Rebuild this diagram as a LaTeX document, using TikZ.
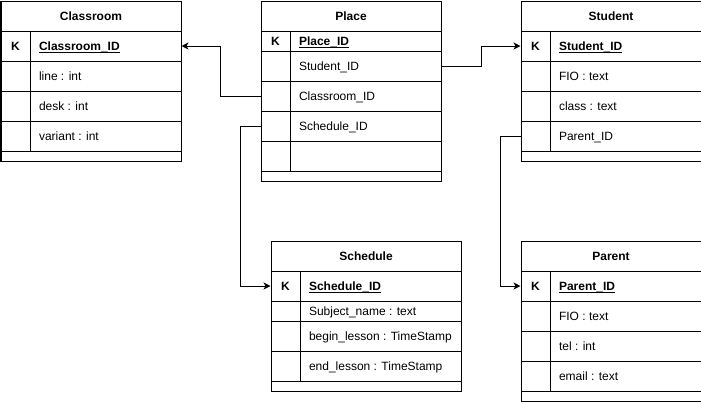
\documentclass[tikz,border=0pt]{standalone}
\usepackage{fontspec}
\setmainfont{Liberation Sans}
\usetikzlibrary{arrows.meta}
\newcommand\erfont{\fontsize{12bp}{14bp}\selectfont}
\newcommand\erul[1]{\setbox0\hbox{#1}\rlap{\vrule height -1.4bp depth 2.4bp width \wd0}\box0}
\begin{document}
\begin{tikzpicture}[x=1bp,y=-1bp,line width=1bp,
  every node/.style={inner sep=0pt, text height=9bp, text depth=0pt, font=\erfont},
  cell/.style 2 args={draw, anchor=north west, minimum width=#1 bp, minimum height=#2 bp},
  hd/.style={font=\erfont\bfseries},
  keylbl/.style={font=\erfont\bfseries},
  fk/.style={font=\erfont\bfseries, anchor=west},
  fl/.style={anchor=west},
  arr/.style={-{Stealth[length=7bp,width=7bp,inset=2bp]}, line width=1bp}
]
\useasboundingbox (0,0) rectangle (701,401);

% Classroom
\node[cell={180}{30}] (cls-h) at (0.5,0.5) {};
\node[hd] at (cls-h) {Classroom};
\node[cell={180}{30}] (cls-k) at (0.5,30.5) {};
\node[cell={180}{30}] (cls-1) at (0.5,60.5) {};
\node[cell={180}{30}] (cls-2) at (0.5,90.5) {};
\node[cell={180}{30}] (cls-3) at (0.5,120.5) {};
\node[cell={180}{10}] (cls-e) at (0.5,150.5) {};
\draw ([xshift=30bp]cls-k.north west) -- ([xshift=30bp]cls-3.south west);
\node[keylbl] at ([xshift=15bp]cls-k.west) {K};
\node[fk] at ([xshift=38bp]cls-k.west) {\erul{Classroom\_ID}};
\node[fl] at ([xshift=38bp]cls-1.west) {line : int};
\node[fl] at ([xshift=38bp]cls-2.west) {desk : int};
\node[fl] at ([xshift=38bp]cls-3.west) {variant : int};

% Place
\node[cell={180}{30}] (pl-h) at (260.5,0.5) {};
\node[hd] at (pl-h) {Place};
\node[cell={180}{20}] (pl-k) at (260.5,30.5) {};
\node[cell={180}{30}] (pl-stu) at (260.5,50.5) {};
\node[cell={180}{30}] (pl-cls) at (260.5,80.5) {};
\node[cell={180}{30}] (pl-sch) at (260.5,110.5) {};
\node[cell={180}{30}] (pl-4) at (260.5,140.5) {};
\node[cell={180}{10}] (pl-e) at (260.5,170.5) {};
\draw ([xshift=30bp]pl-k.north west) -- ([xshift=30bp]pl-4.south west);
\node[keylbl] at ([xshift=15bp]pl-k.west) {K};
\node[fk] at ([xshift=38bp]pl-k.west) {\erul{Place\_ID}};
\node[fl] at ([xshift=38bp]pl-stu.west) {Student\_ID};
\node[fl] at ([xshift=38bp]pl-cls.west) {Classroom\_ID};
\node[fl] at ([xshift=38bp]pl-sch.west) {Schedule\_ID};

% Student
\node[cell={180}{30}] (st-h) at (520.5,0.5) {};
\node[hd] at (st-h) {Student};
\node[cell={180}{30}] (st-k) at (520.5,30.5) {};
\node[cell={180}{30}] (st-1) at (520.5,60.5) {};
\node[cell={180}{30}] (st-2) at (520.5,90.5) {};
\node[cell={180}{30}] (st-par) at (520.5,120.5) {};
\node[cell={180}{10}] (st-e) at (520.5,150.5) {};
\draw ([xshift=30bp]st-k.north west) -- ([xshift=30bp]st-par.south west);
\node[keylbl] at ([xshift=15bp]st-k.west) {K};
\node[fk] at ([xshift=38bp]st-k.west) {\erul{Student\_ID}};
\node[fl] at ([xshift=38bp]st-1.west) {FIO : text};
\node[fl] at ([xshift=38bp]st-2.west) {class : text};
\node[fl] at ([xshift=38bp]st-par.west) {Parent\_ID};

% Schedule
\node[cell={190}{30}] (sc-h) at (270.5,240.5) {};
\node[hd] at (sc-h) {Schedule};
\node[cell={190}{30}] (sc-k) at (270.5,270.5) {};
\node[cell={190}{20}] (sc-1) at (270.5,300.5) {};
\node[cell={190}{30}] (sc-2) at (270.5,320.5) {};
\node[cell={190}{30}] (sc-3) at (270.5,350.5) {};
\node[cell={190}{10}] (sc-e) at (270.5,380.5) {};
\draw ([xshift=30bp]sc-k.north west) -- ([xshift=30bp]sc-3.south west);
\node[keylbl] at ([xshift=15bp]sc-k.west) {K};
\node[fk] at ([xshift=38bp]sc-k.west) {\erul{Schedule\_ID}};
\node[fl] at ([xshift=38bp]sc-1.west) {Subject\_name : text};
\node[fl] at ([xshift=38bp]sc-2.west) {begin\_lesson : TimeStamp};
\node[fl] at ([xshift=38bp]sc-3.west) {end\_lesson : TimeStamp};

% Parent
\node[cell={180}{30}] (pa-h) at (520.5,240.5) {};
\node[hd] at (pa-h) {Parent};
\node[cell={180}{30}] (pa-k) at (520.5,270.5) {};
\node[cell={180}{30}] (pa-1) at (520.5,300.5) {};
\node[cell={180}{30}] (pa-2) at (520.5,330.5) {};
\node[cell={180}{30}] (pa-3) at (520.5,360.5) {};
\node[cell={180}{10}] (pa-e) at (520.5,390.5) {};
\draw ([xshift=30bp]pa-k.north west) -- ([xshift=30bp]pa-3.south west);
\node[keylbl] at ([xshift=15bp]pa-k.west) {K};
\node[fk] at ([xshift=38bp]pa-k.west) {\erul{Parent\_ID}};
\node[fl] at ([xshift=38bp]pa-1.west) {FIO : text};
\node[fl] at ([xshift=38bp]pa-2.west) {tel : int};
\node[fl] at ([xshift=38bp]pa-3.west) {email : text};

% Connectors
\draw[arr] (pl-cls.west) -- ++(-40,0) |- (cls-k.east);
\draw[arr] (pl-sch.west) -- ++(-20,0) |- (sc-k.west);
\draw[arr] (pl-stu.east) -- ++(40,0) |- (st-k.west);
\draw[arr] (st-par.west) -- ++(-20,0) |- (pa-k.west);
\end{tikzpicture}
\end{document}
